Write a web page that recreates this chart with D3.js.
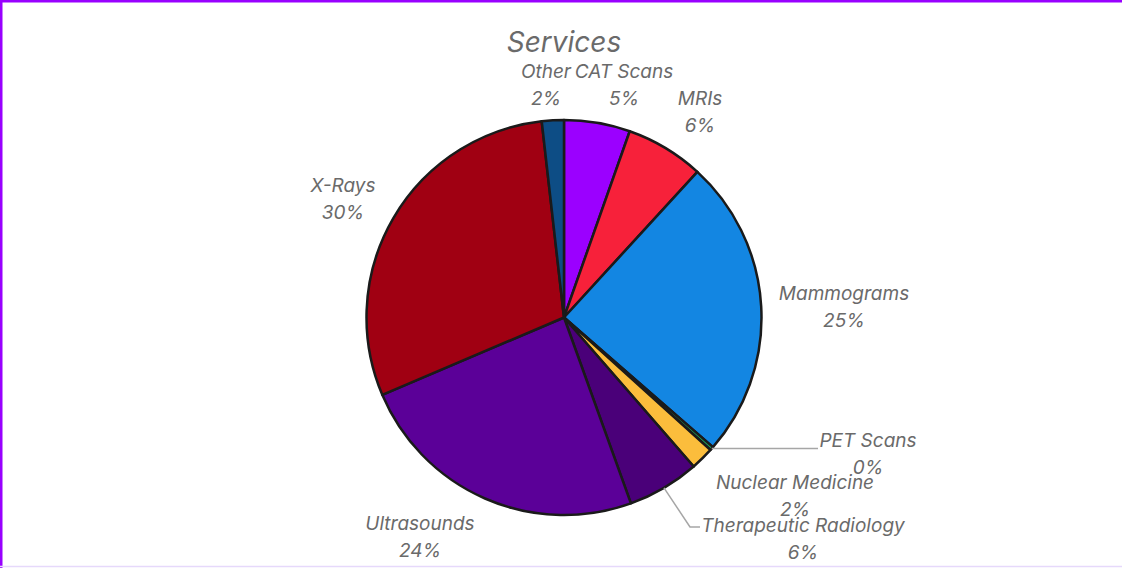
<!DOCTYPE html>
<html>
<head>
<meta charset="utf-8">
<script src="https://cdn.jsdelivr.net/npm/d3@7"></script>
<style>
  html, body { margin: 0; padding: 0; background: #fff; }
  svg { display: block; }
  text { font-family: "Inter", "Liberation Sans", sans-serif; font-style: italic; fill: #6a6a6a; }
</style>
</head>
<body>
<svg id="chart" width="1122" height="568"></svg>
<script>
// ---- data ----
const categories = ["CAT Scans", "MRIs", "Mammograms", "PET Scans", "Nuclear Medicine",
                    "Therapeutic Radiology", "Ultrasounds", "X-Rays", "Other"];
const values = [5.4, 6.4, 24.6, 0.3, 1.9, 5.9, 24.1, 29.6, 1.8];
const colors = ["#9b00ff", "#f7213a", "#1386e2", "#1e9e5a", "#fbbd3c",
                "#4a0079", "#5b0098", "#a00012", "#0d4d85"];
const title = "Services";

// ---- layout ----
const W = 1122, H = 568;
const cx = 564, cy = 317.5, R = 197.5;
const lineH = 27;
const labelLayout = {
  "CAT Scans": {x: 624, y: 78},
  "MRIs": {x: 700, y: 105},
  "Mammograms": {x: 844, y: 300},
  "PET Scans": {x: 868, y: 447, leader: "h"},
  "Nuclear Medicine": {x: 795, y: 489},
  "Therapeutic Radiology": {x: 803, y: 532, leader: "bent"},
  "Ultrasounds": {x: 420, y: 530},
  "X-Rays": {x: 343, y: 192},
  "Other": {x: 546, y: 78}
};

const svg = d3.select("#chart");

// frame
svg.append("line").attr("x1", 0).attr("x2", W).attr("y1", 1.25).attr("y2", 1.25)
  .attr("stroke", "#9900ff").attr("stroke-width", 2.5);
svg.append("line").attr("x1", 1.25).attr("x2", 1.25).attr("y1", 0).attr("y2", H)
  .attr("stroke", "#9900ff").attr("stroke-width", 2.5);
svg.append("line").attr("x1", 0).attr("x2", W).attr("y1", H - 1.5).attr("y2", H - 1.5)
  .attr("stroke", "#e6d9fb").attr("stroke-width", 1.5);

// title
svg.append("text").attr("x", cx).attr("y", 52).attr("text-anchor", "middle")
  .style("font-size", "28px").text(title);

const data = categories.map((c, i) => ({name: c, value: values[i], color: colors[i]}));
const pie = d3.pie().sort(null).value(d => d.value);
const arcs = pie(data);
const arc = d3.arc().innerRadius(0).outerRadius(R);

const g = svg.append("g").attr("transform", `translate(${cx},${cy})`);
g.selectAll("path").data(arcs).join("path")
  .attr("d", arc)
  .attr("fill", d => d.data.color)
  .attr("stroke", "#1a1a1a")
  .attr("stroke-width", 2.5)
  .attr("stroke-linejoin", "round");

// leader lines
arcs.forEach(a => {
  const L = labelLayout[a.data.name];
  if (!L.leader) return;
  const mid = (a.startAngle + a.endAngle) / 2;
  const px = cx + R * Math.sin(mid), py = cy - R * Math.cos(mid);
  let pts;
  if (L.leader === "h") {
    pts = [[px, py], [L.x - 50, py]];
  } else {
    const ty = L.y - 5;
    const tx = L.x - 103;
    pts = [[px, py], [tx - 10, ty], [tx, ty]];
  }
  svg.append("path").attr("d", d3.line()(pts)).attr("fill", "none")
    .attr("stroke", "#a6a6a6").attr("stroke-width", 1.5);
});

// labels
arcs.forEach(a => {
  const L = labelLayout[a.data.name];
  const t = svg.append("text").attr("text-anchor", "middle").style("font-size", "19px");
  t.append("tspan").attr("x", L.x).attr("y", L.y).text(a.data.name);
  t.append("tspan").attr("x", L.x).attr("y", L.y + lineH).text(Math.round(a.data.value) + "%");
});
</script>
</body>
</html>
